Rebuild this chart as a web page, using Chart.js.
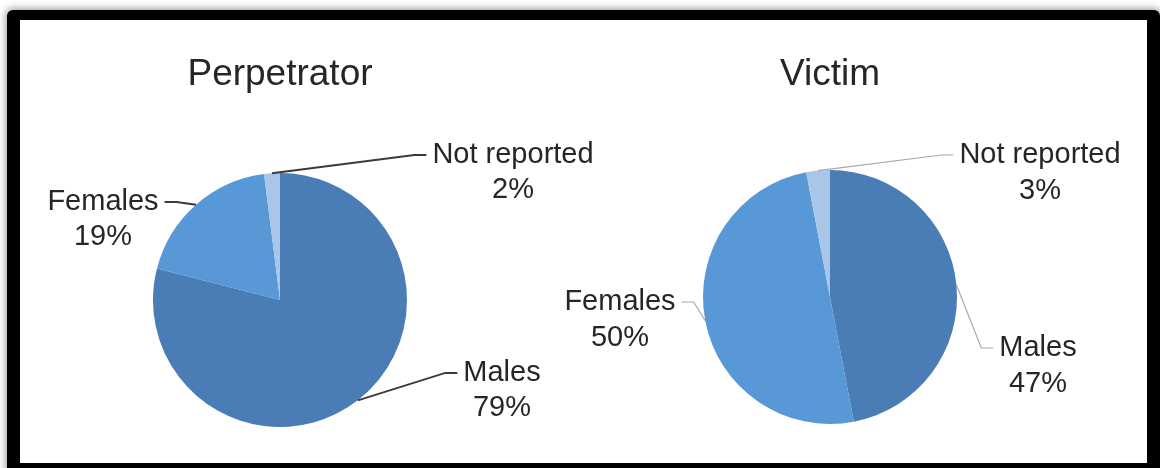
<!DOCTYPE html>
<html>
<head>
<meta charset="utf-8">
<script src="https://cdn.jsdelivr.net/npm/chart.js@4/dist/chart.umd.min.js"></script>
<style>
  html, body { margin: 0; padding: 0; background: #fff; }
  body { width: 1160px; height: 468px; overflow: hidden; position: relative; }
  .frame {
    position: absolute; left: 7px; top: 10px; width: 1153px; height: 465px;
    box-sizing: border-box; background: #fff;
    border-style: solid; border-color: #000; border-width: 10px 13px 12px 13px;
    border-radius: 6px;
    box-shadow: 0 0 7px 2px rgba(0, 0, 0, 0.35);
  }
  canvas { position: absolute; top: 20px; }
  #perpChart { left: 20px; }
  #victimChart { left: 540px; }
</style>
</head>
<body>
<div class="frame"></div>
<canvas id="perpChart" width="600" height="443"></canvas>
<canvas id="victimChart" width="607" height="443"></canvas>
<script>
const categories = ["Males", "Females", "Not reported"];
const perpetratorValues = [79, 19, 2];
const victimValues = [47, 50, 3];
const sliceColors = ["#4a7db6", "#5898d6", "#a9c5e8"];

const fontFamily = "'Liberation Sans', Arial, sans-serif";
const textColor = "#262626";

// labels with leader lines, placed relative to the pie centre
const leaderLabels = {
  id: "leaderLabels",
  afterDatasetsDraw(chart, args, opts) {
    const ctx = chart.ctx;
    const meta = chart.getDatasetMeta(0);
    const values = chart.data.datasets[0].data;
    ctx.save();
    ctx.font = `${opts.size}px ${fontFamily}`;
    ctx.textAlign = "center";
    ctx.textBaseline = "middle";
    meta.data.forEach((arc, i) => {
      const p = arc.getProps(["x", "y", "startAngle", "endAngle", "outerRadius"], true);
      const mid = (p.startAngle + p.endAngle) / 2;
      const ax = p.x + Math.cos(mid) * p.outerRadius;
      const ay = p.y + Math.sin(mid) * p.outerRadius;
      const tx = p.x + opts.offsets[i][0];
      const ty = p.y + opts.offsets[i][1];
      const name = chart.data.labels[i];
      const w = ctx.measureText(name).width;
      const side = tx > ax ? -1 : 1;
      const sx = tx + side * (w / 2 + 6);
      const ex = sx + side * 12;
      ctx.strokeStyle = opts.lineColor;
      ctx.lineWidth = opts.lineWidth;
      ctx.beginPath();
      ctx.moveTo(sx, ty);
      ctx.lineTo(ex, ty);
      ctx.lineTo(ax, ay);
      ctx.stroke();
      ctx.fillStyle = textColor;
      ctx.fillText(name, tx, ty);
      ctx.fillText(values[i] + "%", tx, ty + opts.lineHeight);
    });
    ctx.restore();
  },
};

function makePie(id, title, values, pad, labelOpts) {
  return new Chart(document.getElementById(id), {
    type: "pie",
    data: {
      labels: categories,
      datasets: [{ data: values, backgroundColor: sliceColors, borderWidth: 0, hoverOffset: 0 }],
    },
    options: {
      responsive: false,
      animation: false,
      events: [],
      layout: { padding: pad.layout },
      plugins: {
        legend: { display: false },
        tooltip: { enabled: false },
        title: {
          display: true,
          text: title,
          color: textColor,
          font: { family: fontFamily, size: 37, weight: "normal" },
          padding: { top: 33, bottom: pad.titleBottom },
        },
        leaderLabels: labelOpts,
      },
    },
    plugins: [leaderLabels],
  });
}

makePie("perpChart", "Perpetrator", perpetratorValues,
  { layout: { left: 40, right: 120, top: 0, bottom: 36 }, titleBottom: 75.6 },
  { size: 29, lineHeight: 35, lineColor: "#3a3a3a", lineWidth: 1.8,
    offsets: [[222, 73], [-177, -98], [233, -145]] });

makePie("victimChart", "Victim", victimValues,
  { layout: { left: 80, right: 107, top: 0, bottom: 39 }, titleBottom: 72.6 },
  { size: 29, lineHeight: 36, lineColor: "#a8a8a8", lineWidth: 1.2,
    offsets: [[208, 51], [-210, 5], [210, -142]] });
</script>
</body>
</html>
